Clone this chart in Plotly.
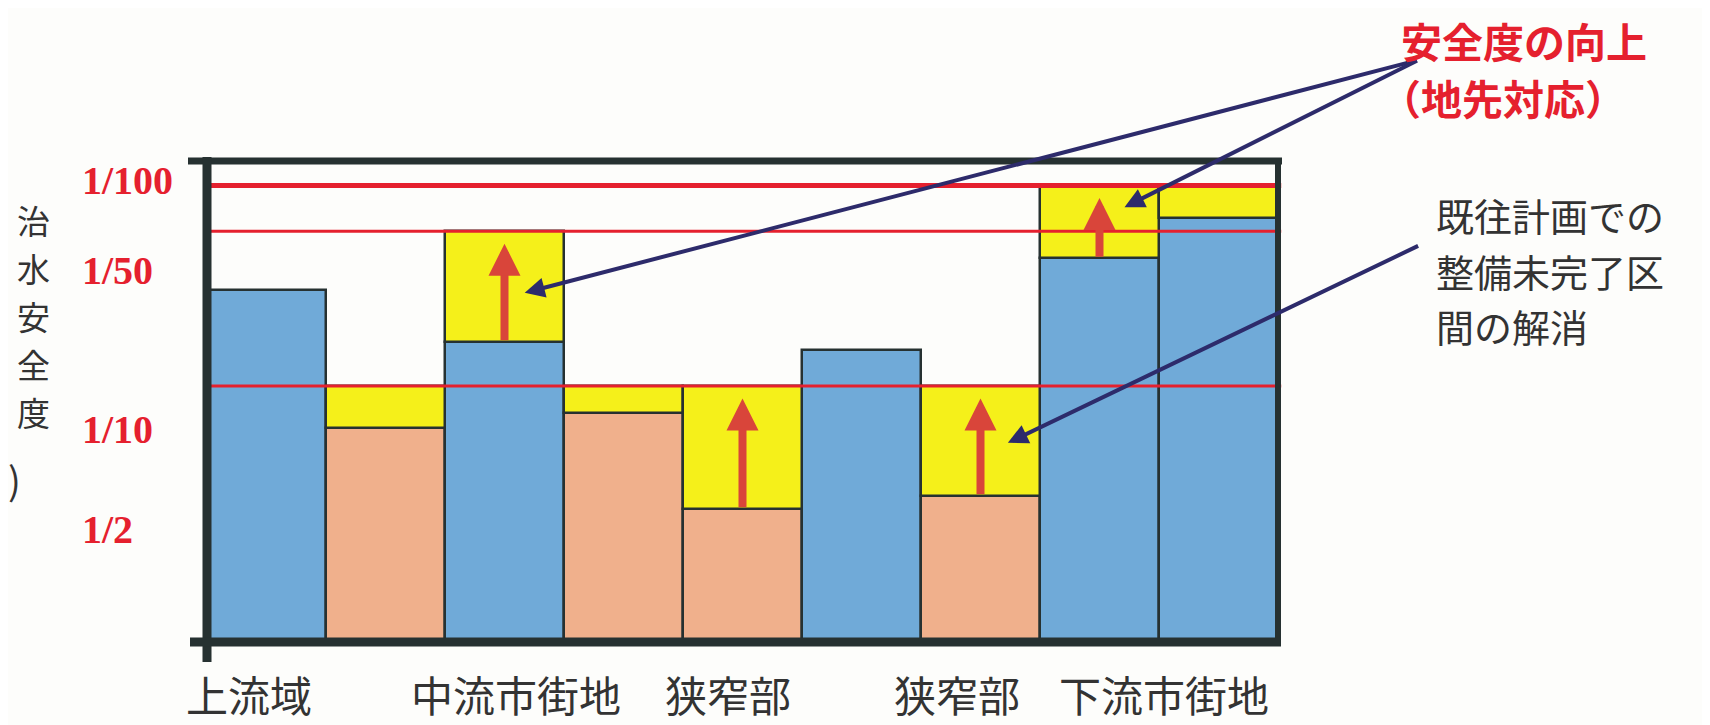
import plotly.graph_objects as go

# 区間ごとの治水安全度（相対スケール 0-100）
bar_ids = [0, 1, 2, 3, 4, 5, 6, 7, 8]
current_level = [73.2, 44.5, 62.4, 47.6, 27.7, 60.7, 30.4, 79.8, 88.1]
planned_done = [True, False, True, False, False, True, False, True, True]
target_level = [None, 53.2, 85.4, 53.2, 53.2, None, 53.2, 94.9, 94.9]
arrow_bars = [2, 4, 6, 7]

target_lines = [94.9, 85.4, 53.2]
level_tickvals = [96.0, 77.3, 44.1, 23.3]
level_ticktext = ["1/100", "1/50", "1/10", "1/2"]

section_labels = ["上流域", "中流市街地", "狭窄部", "狭窄部", "下流市街地"]
section_label_pos = [-0.15, 2.1, 3.88, 5.8, 7.54]

W, H = 1710, 725
OFF = 8  # page body margin
L, R, T, B = 207, 1278, 161, 642  # plot area in screen pixels


def fx(px):
    return (px - L) / (R - L)


def fy(py):
    return (B - py) / (B - T)


BLUE = "#70aad8"
SALMON = "#f0b08c"
YELLOW = "#f5f01a"
EDGE = "#263131"
RED = "#e5202e"
ARROW_RED = "#d9453a"
NAVY = "#2d2b6b"
GREY = "#333333"
CJK = "Noto Sans CJK JP"

fig = go.Figure()

fig.add_trace(go.Bar(
    x=bar_ids, y=current_level, width=1,
    marker=dict(color=[BLUE if p else SALMON for p in planned_done],
                line=dict(color=EDGE, width=2.5)),
    showlegend=False, hoverinfo="skip"))

yx, yh, yb = [], [], []
for i, c, t in zip(bar_ids, current_level, target_level):
    if t is not None:
        yx.append(i)
        yh.append(t - c)
        yb.append(c)
fig.add_trace(go.Bar(
    x=yx, y=yh, base=yb, width=1,
    marker=dict(color=YELLOW, line=dict(color=EDGE, width=2.5)),
    showlegend=False, hoverinfo="skip"))

shapes = []
for k, lv in enumerate(target_lines):
    shapes.append(dict(type="line", xref="x domain", yref="y", x0=0, x1=1.003, y0=lv, y1=lv,
                       line=dict(color=RED, width=5 if k == 0 else 3), layer="above"))

# frame
shapes += [
    dict(type="line", xref="paper", yref="paper", x0=fx(188), x1=fx(1282), y0=fy(161), y1=fy(161),
         line=dict(color=EDGE, width=7)),
    dict(type="line", xref="paper", yref="paper", x0=fx(207), x1=fx(207), y0=fy(157), y1=fy(662),
         line=dict(color=EDGE, width=9)),
    dict(type="line", xref="paper", yref="paper", x0=fx(190), x1=fx(1281), y0=fy(642), y1=fy(642),
         line=dict(color=EDGE, width=9)),
    dict(type="line", xref="paper", yref="paper", x0=fx(1278), x1=fx(1278), y0=fy(158), y1=fy(646),
         line=dict(color=EDGE, width=6)),
]

ann = []
# red improvement arrows
for i in arrow_bars:
    ann.append(dict(x=i, y=target_level[i] - 2.6, ax=i, ay=current_level[i],
                    xref="x", yref="y", axref="x", ayref="y", text="", showarrow=True,
                    arrowhead=2, arrowsize=0.8, arrowwidth=8, arrowcolor=ARROW_RED))

# callout pointers
for (hx, hy, tx, ty) in [(2.17, 72.6, 9.68, 121.0), (7.21, 90.4, 9.68, 121.0), (6.23, 41.4, 9.69, 82.5)]:
    ann.append(dict(x=hx, y=hy, ax=tx, ay=ty, xref="x", yref="y", axref="x", ayref="y",
                    text="", showarrow=True, arrowhead=2, arrowsize=1.0, arrowwidth=4,
                    arrowcolor=NAVY))

# y tick labels
for v, t in zip(level_tickvals, level_ticktext):
    ann.append(dict(x=fx(80), y=v, xref="paper", yref="y", xanchor="left", yanchor="middle",
                    text="<b>%s</b>" % t, showarrow=False,
                    font=dict(family="Liberation Serif", size=40, color=RED)))

# y title (vertical, one glyph per line)
for ch, py in zip("治水安全度", [220, 268, 316, 364, 412]):
    ann.append(dict(x=fx(33), y=fy(py), xref="paper", yref="paper", xanchor="center", yanchor="middle",
                    text=ch, showarrow=False, borderpad=0,
                    font=dict(family=CJK, size=33, color=GREY)))
ann.append(dict(x=fx(14), y=fy(478), xref="paper", yref="paper", xanchor="center", yanchor="middle",
                text=")", showarrow=False, borderpad=0,
                font=dict(family=CJK, size=38, color=GREY)))

# section labels
for t, xp in zip(section_labels, section_label_pos):
    ann.append(dict(x=xp, y=fy(724.5), xref="x", yref="paper", xanchor="center", yanchor="bottom",
                    text=t, showarrow=False, borderpad=0,
                    font=dict(family=CJK, size=42, color=GREY)))

# callout texts
ann.append(dict(x=fx(1400), y=fy(8.5), xref="paper", yref="paper", xanchor="left", yanchor="top",
                text="<b>安全度の向上</b>", showarrow=False, borderpad=0,
                font=dict(family=CJK, size=41, color=RED)))
ann.append(dict(x=fx(1379), y=fy(97), xref="paper", yref="paper", xanchor="left", yanchor="middle",
                text="<b>（地先対応）</b>", showarrow=False, borderpad=0,
                font=dict(family=CJK, size=41, color=RED)))
for t, py in [("既往計画での", 214.5), ("整備未完了区", 270), ("間の解消", 325.5)]:
    ann.append(dict(x=fx(1435), y=fy(py), xref="paper", yref="paper", xanchor="left", yanchor="middle",
                    text=t, showarrow=False, borderpad=0,
                    font=dict(family=CJK, size=38, color=GREY)))

fig.update_layout(
    width=W, height=H, autosize=False,
    margin=dict(l=L - OFF, r=W - (R - OFF), t=T - OFF, b=H - (B - OFF), pad=0),
    paper_bgcolor="#fdfdfb", plot_bgcolor="#fdfdfb",
    barmode="overlay", bargap=0,
    shapes=shapes, annotations=ann,
    xaxis=dict(range=[-0.5, 8.5], visible=False, fixedrange=True),
    yaxis=dict(range=[0, 100], visible=False, fixedrange=True),
)

fig.write_html("out.html")
